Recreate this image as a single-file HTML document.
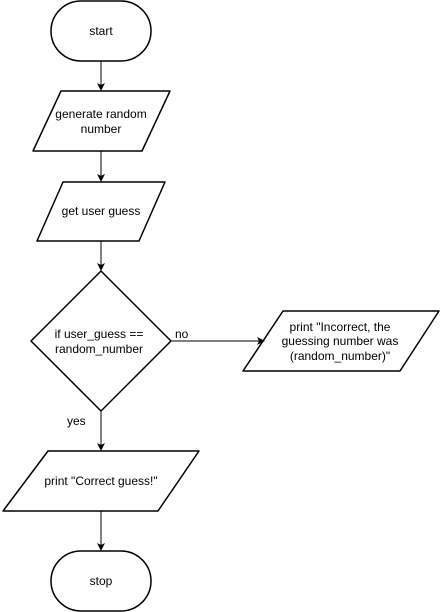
<!DOCTYPE html>
<html><head><meta charset="utf-8"><style>
html,body{margin:0;padding:0;background:#fff;}
svg{display:block;}
text{font-family:"Liberation Sans",Arial,sans-serif;font-size:12px;fill:#000;}
</style></head><body>
<svg width="442" height="612" viewBox="0 0 442 612" xmlns="http://www.w3.org/2000/svg">
<defs><marker id="a" markerWidth="8" markerHeight="8" refX="7" refY="4" orient="auto" markerUnits="userSpaceOnUse"><path d="M0,0 L8,4 L0,8 L2,4 Z" fill="#000"/></marker></defs>
<g fill="#fff" stroke="#000" stroke-width="1.5" stroke-linejoin="round">
<rect x="51" y="1" width="100" height="60" rx="30" ry="30"/>
<path d="M61,91 L170,91 L142,151 L33,151 Z"/>
<path d="M63,182 L165,182 L139,241 L37,241 Z"/>
<path d="M101,271 L171,341 L101,411 L31,341 Z"/>
<path d="M283,311 L439,311 L400,371 L243,371 Z"/>
<path d="M48,451 L199,451 L158,511 L3,511 Z"/>
<rect x="51" y="551" width="100" height="60" rx="30" ry="30"/>
</g>
<g stroke="#000" stroke-width="1" fill="none" marker-end="url(#a)">
<line x1="101" y1="61" x2="101" y2="90"/>
<line x1="101" y1="151" x2="101" y2="181"/>
<line x1="101" y1="241" x2="101" y2="270"/>
<line x1="171" y1="341" x2="264" y2="341"/>
<line x1="101" y1="411" x2="101" y2="450"/>
<line x1="101" y1="511" x2="101" y2="550"/>
</g>
<g text-anchor="middle">
<text x="101" y="35">start</text>
<text x="101" y="118">generate random</text>
<text x="101" y="133">number</text>
<text x="101" y="215">get user guess</text>
<text x="99" y="338">if user_guess ==</text>
<text x="99" y="353">random_number</text>
<text x="340" y="331">print "Incorrect, the</text>
<text x="340" y="345">guessing number was</text>
<text x="340" y="360">(random_number)"</text>
<text x="101" y="485">print "Correct guess!"</text>
<text x="101" y="585">stop</text>
</g>
<text x="175" y="338">no</text>
<text x="67" y="425">yes</text>
</svg>
</body></html>
